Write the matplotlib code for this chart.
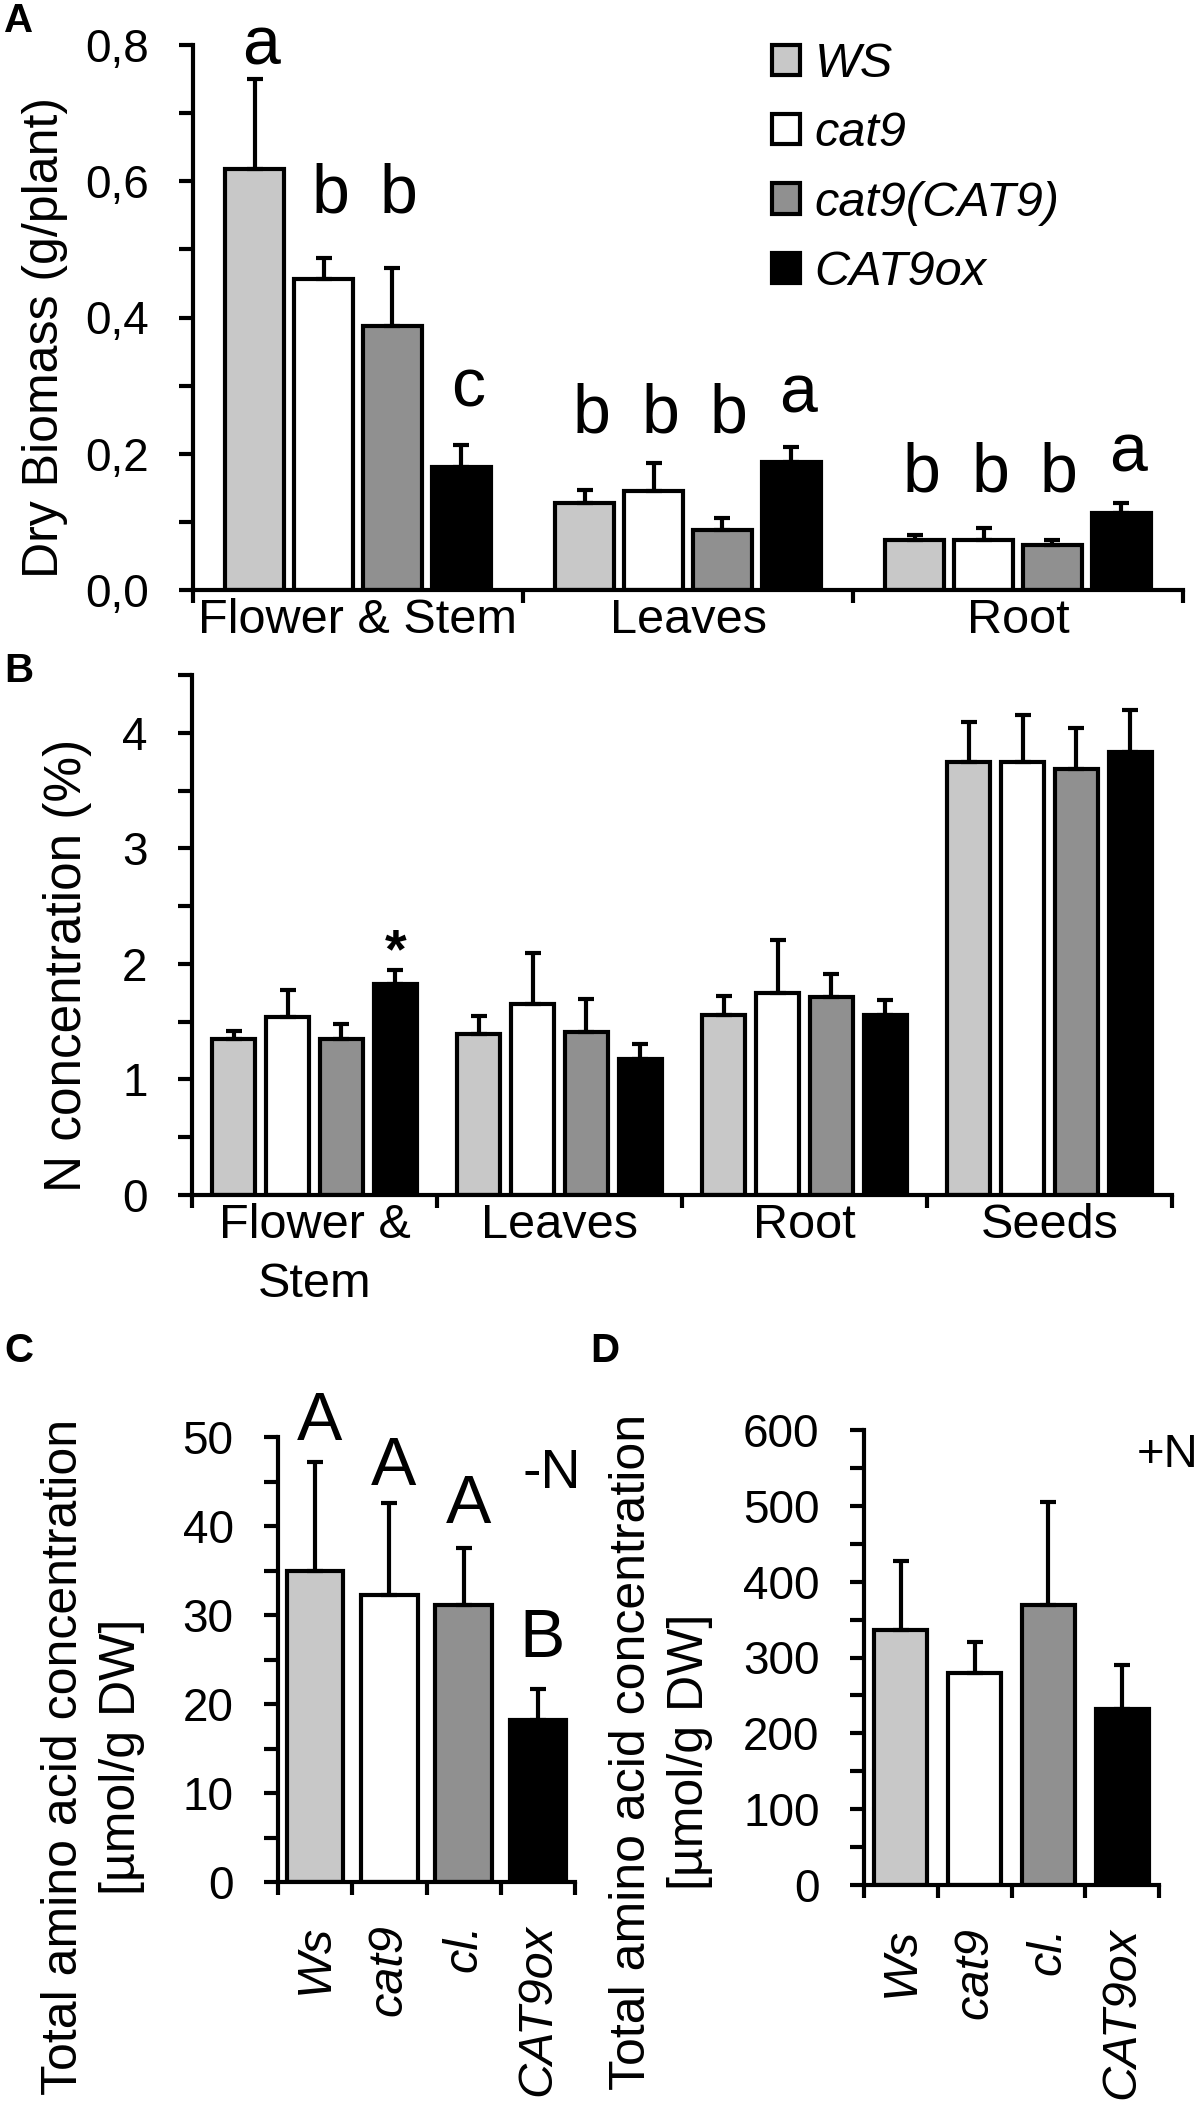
import matplotlib
matplotlib.use("Agg")
import matplotlib.pyplot as plt
from matplotlib.patches import Patch
import numpy as np

plt.rcParams['font.family'] = ['Liberation Sans', 'DejaVu Sans']

# ---------------- data ----------------
genotypes = ["WS", "cat9", "cat9(CAT9)", "CAT9ox"]
colors = ["#c8c8c8", "#ffffff", "#909090", "#000000"]

# Panel A: dry biomass (g/plant)
tissues_A = ["Flower & Stem", "Leaves", "Root"]
biomass_mean = {
    "WS":         [0.618, 0.128, 0.074],
    "cat9":       [0.457, 0.146, 0.074],
    "cat9(CAT9)": [0.387, 0.088, 0.066],
    "CAT9ox":     [0.181, 0.188, 0.113],
}
biomass_sd = {
    "WS":         [0.132, 0.019, 0.007],
    "cat9":       [0.031, 0.041, 0.017],
    "cat9(CAT9)": [0.086, 0.018, 0.008],
    "CAT9ox":     [0.032, 0.022, 0.015],
}
letters_A = [["a", "b", "b", "c"], ["b", "b", "b", "a"], ["b", "b", "b", "a"]]
letters_A_y = [[0.772, 0.554, 0.554, 0.269], [0.231, 0.231, 0.231, 0.260], [0.144, 0.144, 0.144, 0.174]]
yticks_A = [0.0, 0.2, 0.4, 0.6, 0.8]
yticklabels_A = ["0,0", "0,2", "0,4", "0,6", "0,8"]

# Panel B: N concentration (%)
tissues_B = ["Flower &\nStem", "Leaves", "Root", "Seeds"]
nconc_mean = {
    "WS":         [1.35, 1.39, 1.56, 3.75],
    "cat9":       [1.54, 1.65, 1.75, 3.75],
    "cat9(CAT9)": [1.35, 1.41, 1.71, 3.69],
    "CAT9ox":     [1.83, 1.18, 1.56, 3.83],
}
nconc_sd = {
    "WS":         [0.07, 0.16, 0.16, 0.34],
    "cat9":       [0.23, 0.44, 0.46, 0.40],
    "cat9(CAT9)": [0.13, 0.29, 0.20, 0.35],
    "CAT9ox":     [0.12, 0.13, 0.13, 0.37],
}
yticks_B = [0, 1, 2, 3, 4]

# Panel C / D: total amino acids
lines_CD = ["Ws", "cat9", "cl.", "CAT9ox"]
aa_minusN_mean = [35.0, 32.2, 31.1, 18.2]
aa_minusN_sd = [12.2, 10.4, 6.4, 3.5]
letters_C = ["A", "A", "A", "B"]
letters_C_y = [49.7, 44.6, 40.3, 25.3]
aa_plusN_mean = [336, 280, 369, 232]
aa_plusN_sd = [91, 40, 136, 58]
yticks_C = [0, 10, 20, 30, 40, 50]
yticks_D = [0, 100, 200, 300, 400, 500, 600]

# ---------------- layout helpers ----------------
W, H = 1200, 2105
fig = plt.figure(figsize=(W / 100, H / 100), dpi=100)

def rect(l, r, t, b):
    return [l / W, 1 - b / H, (r - l) / W, (b - t) / H]

def fx(px):
    return px / W

def fy(py):
    return 1 - py / H

LW = 3.0
FS = 35
TICKFS = 33
LETFS = 49

def style_axes(ax, ncat, ylim, majors, minors, yticklabels=None, ypad=22):
    for s in ["top", "right"]:
        ax.spines[s].set_visible(False)
    for s in ["left", "bottom"]:
        ax.spines[s].set_linewidth(LW)
    ax.set_xlim(-0.5, ncat - 0.5)
    ax.set_ylim(*ylim)
    ax.set_yticks(majors)
    if yticklabels is not None:
        ax.set_yticklabels(yticklabels)
    ax.set_yticks(minors, minor=True)
    ax.tick_params(axis="y", which="both", direction="out", length=10, width=LW,
                   labelsize=TICKFS, pad=ypad)
    ax.set_xticks(np.arange(ncat))
    ax.set_xticks(np.arange(ncat + 1) - 0.5, minor=True)
    ax.tick_params(axis="x", which="major", length=0, labelsize=FS, pad=6)
    ax.tick_params(axis="x", which="minor", direction="out", length=9.5, width=LW)
    ax.patch.set_alpha(0)

def grouped(ax, means, sds, offsets, width):
    ncat = len(means[genotypes[0]])
    x0 = np.arange(ncat)
    for g, c, off in zip(genotypes, colors, offsets):
        xs = x0 + off
        ax.bar(xs, means[g], width=width, color=c, edgecolor="black", linewidth=LW, zorder=2)
        ax.errorbar(xs, means[g], yerr=[np.zeros(ncat), sds[g]], fmt="none", ecolor="black",
                    elinewidth=LW, capsize=6, capthick=LW, zorder=3)

# ---------------- Panel A ----------------
axA = fig.add_axes(rect(193, 1183, 45, 590))
offA = [-0.313, -0.104, 0.104, 0.313]
grouped(axA, biomass_mean, biomass_sd, offA, 0.18)
style_axes(axA, 3, (0, 0.8), yticks_A, [0.1, 0.3, 0.5, 0.7], yticklabels_A)
axA.set_xticklabels(tissues_A)
for i in range(3):
    for j in range(4):
        axA.text(i + offA[j] + 0.02, letters_A_y[i][j], letters_A[i][j], ha="center",
                 va="baseline", fontsize=LETFS, clip_on=False)
handles = [Patch(facecolor=c, edgecolor="black", linewidth=LW) for c in colors]
leg = axA.legend(handles, genotypes, loc="upper left", bbox_to_anchor=(fx(772), fy(42)),
                 bbox_transform=fig.transFigure, frameon=False,
                 prop={"family": ["Liberation Sans"], "style": "italic", "size": 35},
                 handlelength=0.58, handleheight=0.58, handletextpad=0.3,
                 labelspacing=0.5, borderpad=0, borderaxespad=0)
fig.text(fx(45), fy(338), "Dry Biomass (g/plant)", rotation=90, ha="center", va="center", fontsize=36)
fig.text(fx(4), fy(2), "A", ha="left", va="top", fontsize=29, fontweight="bold")

# ---------------- Panel B ----------------
axB = fig.add_axes(rect(192, 1172, 675, 1195))
offB = [-0.33, -0.11, 0.11, 0.33]
grouped(axB, nconc_mean, nconc_sd, offB, 0.178)
style_axes(axB, 4, (0, 4.5), yticks_B, [0.5, 1.5, 2.5, 3.5, 4.5], ypad=22)
axB.set_xticklabels(tissues_B, linespacing=1.4)
axB.text(0 + offB[3], 1.97, "*", ha="center", va="baseline", fontsize=40, fontweight="bold")
fig.text(fx(68), fy(965), "N concentration (%)", rotation=90, ha="center", va="center", fontsize=37)
fig.text(fx(4), fy(652), "B", ha="left", va="top", fontsize=29, fontweight="bold")

# ---------------- Panel C ----------------
axC = fig.add_axes(rect(278, 575, 1437, 1882))
xC = np.arange(4)
axC.bar(xC, aa_minusN_mean, width=0.76, color=colors, edgecolor="black", linewidth=LW, zorder=2)
axC.errorbar(xC, aa_minusN_mean, yerr=[np.zeros(4), aa_minusN_sd], fmt="none", ecolor="black",
             elinewidth=LW, capsize=6, capthick=LW, zorder=3)
style_axes(axC, 4, (0, 50), yticks_C, [5, 15, 25, 35, 45], ypad=22)
axC.set_xticklabels(lines_CD, rotation=90, style="italic", va="top", ha="center")
axC.tick_params(axis="x", which="major", pad=30)
for i in range(4):
    axC.text(xC[i] + 0.06, letters_C_y[i], letters_C[i], ha="center", va="baseline",
             fontsize=LETFS, clip_on=False)
axC.text(3.19, 44.3, "-N", ha="center", va="baseline", fontsize=40, clip_on=False)
fig.text(fx(93), fy(1757), "Total amino acid concentration\n[µmol/g DW]", rotation=90,
         ha="center", va="center", multialignment="center", fontsize=36, linespacing=1.35)
fig.text(fx(4), fy(1332), "C", ha="left", va="top", fontsize=29, fontweight="bold")

# ---------------- Panel D ----------------
axD = fig.add_axes(rect(864, 1159, 1430, 1885))
xD = np.arange(4)
axD.bar(xD, aa_plusN_mean, width=0.72, color=colors, edgecolor="black", linewidth=LW, zorder=2)
axD.errorbar(xD, aa_plusN_mean, yerr=[np.zeros(4), aa_plusN_sd], fmt="none", ecolor="black",
             elinewidth=LW, capsize=6, capthick=LW, zorder=3)
style_axes(axD, 4, (0, 600), yticks_D, [50, 150, 250, 350, 450, 550], ypad=22)
axD.set_xticklabels(lines_CD, rotation=90, style="italic", va="top", ha="center")
axD.tick_params(axis="x", which="major", pad=30)
axD.text(4.03, 551, "+N", ha="right", va="baseline", fontsize=34, clip_on=False)
fig.text(fx(661), fy(1752), "Total amino acid concentration\n[µmol/g DW]", rotation=90,
         ha="center", va="center", multialignment="center", fontsize=36, linespacing=1.35)
fig.text(fx(590), fy(1332), "D", ha="left", va="top", fontsize=29, fontweight="bold")

fig.savefig("out.png", dpi=100, facecolor="white")
